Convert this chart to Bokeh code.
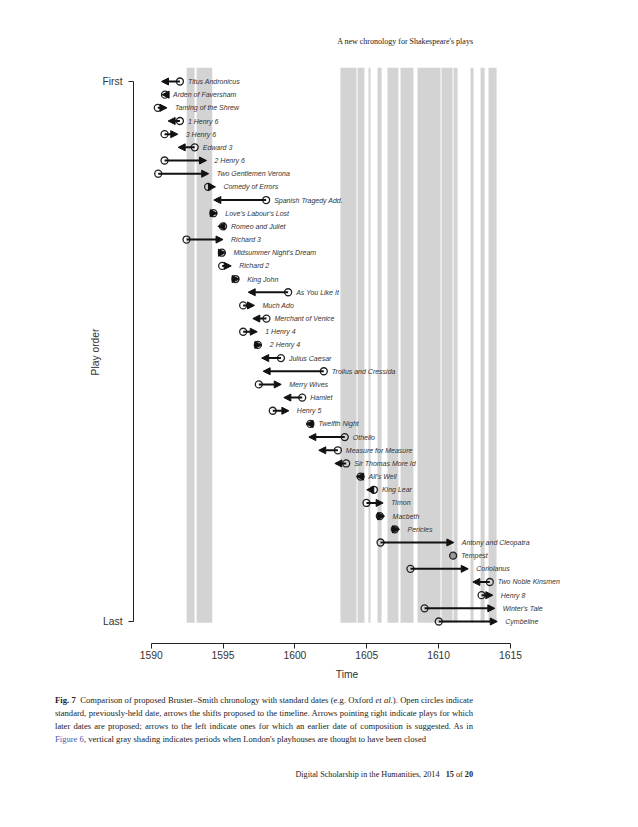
import numpy as np
from bokeh.plotting import figure
from bokeh.models import Range1d, FixedTicker, ColumnDataSource, Arrow, NormalHead, Div
from bokeh.layouts import column
from bokeh.core.properties import value
from bokeh.embed import file_html
from bokeh.resources import INLINE

# ---------------- data ----------------
plays = [
    "Titus Andronicus", "Arden of Faversham", "Taming of the Shrew", "1 Henry 6",
    "3 Henry 6", "Edward 3", "2 Henry 6", "Two Gentlemen Verona", "Comedy of Errors",
    "Spanish Tragedy Add.", "Love's Labour's Lost", "Romeo and Juliet", "Richard 3",
    "Midsummer Night's Dream", "Richard 2", "King John", "As You Like It", "Much Ado",
    "Merchant of Venice", "1 Henry 4", "2 Henry 4", "Julius Caesar",
    "Troilus and Cressida", "Merry Wives", "Hamlet", "Henry 5", "Twelfth Night",
    "Othello", "Measure for Measure", "Sir Thomas More Id", "All's Well", "King Lear",
    "Timon", "Macbeth", "Pericles", "Antony and Cleopatra", "Tempest", "Coriolanus",
    "Two Noble Kinsmen", "Henry 8", "Winter's Tale", "Cymbeline",
]
# standard (previously held) dates -> open circles
standard_date = [
    1592.00, 1590.96, 1590.46, 1592.00, 1590.93, 1593.03, 1590.93, 1590.49, 1593.96,
    1598.00, 1594.33, 1595.00, 1592.46, 1594.92, 1594.94, 1595.87, 1599.53, 1596.40,
    1598.02, 1596.40, 1597.42, 1599.03, 1602.01, 1597.49, 1600.51, 1598.46, 1601.08,
    1603.47, 1602.99, 1603.57, 1604.57, 1605.50, 1604.98, 1605.91, 1606.95, 1605.96,
    1611.01, 1608.04, 1613.56, 1612.99, 1609.02, 1610.01,
]
# proposed Bruster-Smith dates -> arrow heads
proposed_date = [
    1590.72, 1590.76, 1591.10, 1591.18, 1591.85, 1591.88, 1593.85, 1594.00, 1594.47,
    1594.36, 1594.60, 1594.64, 1595.00, 1595.17, 1595.57, 1596.12, 1596.75, 1597.19,
    1597.07, 1597.38, 1597.70, 1597.69, 1597.79, 1599.05, 1599.23, 1599.58, 1600.78,
    1600.97, 1601.66, 1602.78, 1604.29, 1605.00, 1606.14, 1606.24, 1607.28, 1611.06,
    1611.01, 1612.06, 1612.38, 1613.77, 1613.91, 1614.08,
]
# periods when playhouses were closed (gray shading)
closure_start = [1592.47, 1593.16, 1603.17, 1604.36, 1605.12, 1605.75, 1606.44,
                 1607.35, 1608.53, 1610.20, 1611.04, 1612.22, 1612.92, 1613.47]
closure_end = [1593.02, 1594.25, 1604.29, 1604.84, 1605.26, 1606.03, 1607.20,
               1608.25, 1610.13, 1610.97, 1611.32, 1612.43, 1613.20, 1614.03]
x_ticks = [1590, 1595, 1600, 1605, 1610, 1615]
y_tick_labels = {1: "First", 42: "Last"}

# ---------------- figure ----------------
order = list(range(1, len(plays) + 1))
src = ColumnDataSource(dict(
    play=plays, row=order, std=standard_date, new=proposed_date,
    lab_x=list(np.maximum(standard_date, proposed_date)),
))
moved = [i for i in range(len(plays)) if standard_date[i] != proposed_date[i]]
same = [i for i in range(len(plays)) if standard_date[i] == proposed_date[i]]
arrow_src = ColumnDataSource(dict(
    row=[order[i] for i in moved],
    std=[standard_date[i] for i in moved],
    new=[proposed_date[i] for i in moved],
))

p = figure(width=630, height=627,
           x_range=Range1d(1588.77, 1618.48), y_range=Range1d(43.67, -0.594),
           output_backend="svg", toolbar_location=None,
           min_border_left=133, min_border_right=70, min_border_top=0,
           min_border_bottom=44)
p.outline_line_color = None
p.xgrid.visible = False
p.ygrid.visible = False
p.background_fill_color = "white"
p.border_fill_color = "white"

band_top, band_bottom = -0.05, 42.1
p.quad(left=closure_start, right=closure_end,
       top=[band_top] * len(closure_start), bottom=[band_bottom] * len(closure_start),
       fill_color="#d3d3d3", line_color=None)

p.add_layout(Arrow(end=NormalHead(size=7, line_color="#111", fill_color="#111", line_width=1),
                   x_start="std", y_start="row", x_end="new", y_end="row",
                   source=arrow_src, line_color="#111", line_width=2))
p.scatter(x=[standard_date[i] for i in same], y=[order[i] for i in same],
          marker="circle", size=7, fill_color="#999999", line_color=None)
p.scatter(x="std", y="row", source=src, marker="circle", size=7,
          fill_color=None, line_color="#222", line_width=1.3)
p.text(x="lab_x", y="row", text="play", source=src, x_offset=8,
       text_baseline="middle", text_align="left",
       text_font=value("Liberation Sans"), text_font_style="italic",
       text_font_size="7px", text_color="#333")

# axes, R style
ax = p.xaxis[0]
ax.ticker = FixedTicker(ticks=x_ticks)
ax.bounds = (x_ticks[0], x_ticks[-1])
ax.axis_label = "Time"
ay = p.yaxis[0]
ay.ticker = FixedTicker(ticks=list(y_tick_labels.keys()))
ay.major_label_overrides = y_tick_labels
ay.bounds = (1, 42)
ay.axis_label = "Play order"
for a in (ax, ay):
    a.axis_line_color = "#222"
    a.major_tick_line_color = "#222"
    a.minor_tick_line_color = None
    a.major_tick_in = 0
    a.major_tick_out = 5
    a.major_label_text_font = "Liberation Sans"
    a.major_label_text_font_size = "10.3px"
    a.major_label_text_color = "#333"
    a.axis_label_text_font = "Liberation Sans"
    a.axis_label_text_font_size = "10.3px"
    a.axis_label_text_font_style = "normal"
    a.axis_label_text_color = "#333"
ax.major_label_standoff = 2
ax.axis_label_standoff = 7
ay.major_label_standoff = 6
ay.axis_label_standoff = -2

serif = "font-family:'Liberation Serif',serif;color:#222;"
header = Div(width=630, height=60, margin=(0, 0, 0, 0), text=(
    f"<div style=\"{serif}width:473px;text-align:right;font-size:8px;"
    "padding-top:36px;line-height:12px;\">A new chronology for Shakespeare's plays</div>"))

line_style = "text-align:justify;text-align-last:justify;white-space:nowrap;"
caption_html = (
    f"<div style=\"{serif}margin-left:55px;width:418px;font-size:8.6px;line-height:13px;padding-top:7px;\">"
    f"<div style=\"{line_style}\"><b>Fig. 7</b>&nbsp; Comparison of proposed Bruster–Smith chronology with standard dates (e.g. Oxford <i>et al.</i>). Open circles indicate</div>"
    f"<div style=\"{line_style}\">standard, previously-held date, arrows the shifts proposed to the timeline. Arrows pointing right indicate plays for which</div>"
    f"<div style=\"{line_style}\">later dates are proposed; arrows to the left indicate ones for which an earlier date of composition is suggested. As in</div>"
    "<div style=\"white-space:nowrap;\"><span style=\"color:#4b5aa6;\">Figure 6</span>, vertical gray shading indicates periods when London's playhouses are thought to have been closed</div>"
    "<div style=\"text-align:right;margin-top:22px;white-space:nowrap;font-size:8.2px;\">Digital Scholarship in the Humanities, 2014 &nbsp;&nbsp;<b>15</b> of <b>20</b></div>"
    "</div>")
caption = Div(width=630, height=124, margin=(0, 0, 0, 0), text=caption_html)

layout = column(header, p, caption, spacing=0)
open("out.html", "w").write(file_html(layout, INLINE))
